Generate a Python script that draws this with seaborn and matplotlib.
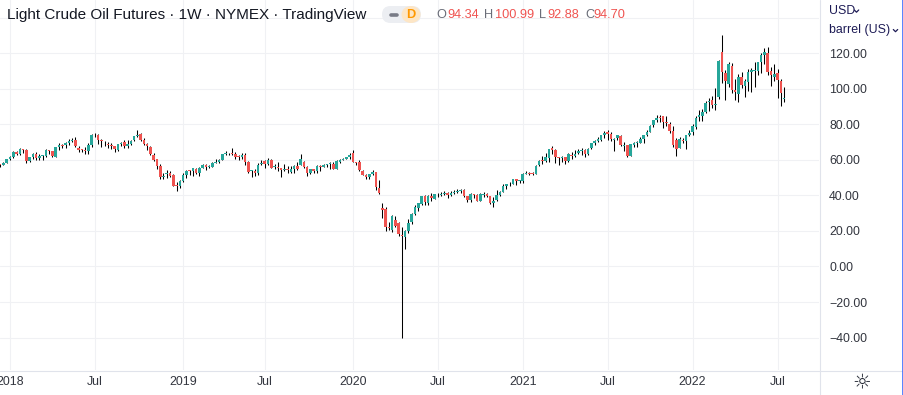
import numpy as np
import pandas as pd
import matplotlib
matplotlib.use("Agg")
import matplotlib.pyplot as plt
import seaborn as sns
from matplotlib.lines import Line2D
from matplotlib.patches import FancyBboxPatch, Ellipse
from matplotlib.transforms import IdentityTransform

# ---------------- data (weekly OHLC, USD/barrel) ----------------
first_week = "2017-12-11"
open_ = [
    57.36, 57.30, 58.45,
    60.37, 61.50, 64.27, 63.45, 66.16, 65.35, 59.29, 61.52, 63.57, 61.34, 62.03, 62.34, 65.73, 64.95, 61.87, 67.36,
    68.28, 68.30, 69.80, 70.65, 71.10, 66.84, 65.75, 65.70, 64.81, 68.71, 74.13, 73.87, 71.08, 68.20, 68.69, 68.50,
    67.66, 65.86, 68.74, 69.88, 67.66, 68.92, 71.00, 73.30, 74.40, 71.25, 69.20, 67.40, 63.00, 60.30, 56.60, 50.36,
    52.00, 52.64, 51.30, 45.48, 45.25,
    48.20, 51.30, 53.73, 53.56, 55.07, 52.56, 55.74, 57.15, 55.93, 56.04, 58.50, 58.96, 60.22, 63.11, 63.66, 64.05,
    63.33, 61.80, 61.56, 63.05, 58.98, 53.59, 53.99, 52.48, 57.48, 59.62, 57.47, 60.10, 55.83, 56.15, 55.64, 54.45,
    54.78, 53.50, 55.17, 56.70, 57.40, 59.00, 55.81, 52.83, 54.65, 53.71, 56.60, 56.30, 57.10, 57.59, 57.79, 55.17,
    59.09, 60.10, 60.48, 61.73,
    63.71, 59.00, 58.67, 53.58, 51.56, 50.18, 52.00, 52.97, 44.36, 32.87, 32.60, 22.00, 20.39, 26.10, 24.50, 17.73,
    16.80, 19.90, 24.80, 29.50, 32.90, 35.40, 39.60, 35.50, 39.80, 38.10, 40.70, 40.30, 40.60, 41.20, 40.20, 41.60,
    42.10, 42.40, 42.90, 39.60, 37.30, 40.90, 40.30, 37.00, 40.40, 40.90, 39.60, 35.90, 37.30, 40.00, 42.20, 45.40,
    46.20, 46.70, 49.10, 48.00,
    48.40, 52.20, 52.40, 52.40, 52.10, 57.00, 59.30, 59.50, 61.30, 66.50, 65.60, 61.50, 61.00, 61.40, 59.60, 63.00,
    62.00, 64.00, 65.00, 65.50, 63.60, 66.60, 69.40, 70.90, 71.40, 74.00, 75.60, 74.40, 71.40, 72.20, 73.60, 67.60,
    68.30, 62.40, 68.60, 69.40, 69.60, 71.70, 74.00, 75.90, 79.90, 82.50, 84.00, 84.50, 81.60, 80.50, 76.20, 71.20,
    67.00, 71.40, 70.50, 73.80,
    75.70, 78.40, 84.00, 84.50, 87.20, 92.50, 93.60, 90.80, 95.70, 121.00, 109.00, 103.00, 112.70, 99.50, 97.00,
    106.50, 101.50, 104.00, 109.50, 110.00, 110.20, 115.00, 119.00, 120.30, 109.90, 107.00, 108.90, 104.60, 94.34,
]
high = [
    58.00, 58.60, 60.51,
    62.21, 64.77, 64.89, 66.66, 66.30, 65.90, 61.85, 63.73, 64.24, 63.44, 62.88, 66.15, 65.75, 65.00, 67.45, 69.56,
    69.06, 70.00, 71.89, 72.30, 72.90, 67.75, 66.26, 67.40, 69.30, 74.46, 75.27, 74.70, 71.73, 70.84, 70.34, 69.80,
    67.90, 68.97, 70.40, 71.40, 71.25, 71.36, 73.53, 76.90, 75.18, 72.10, 69.70, 68.04, 63.82, 60.71, 57.60, 52.78,
    54.55, 53.70, 52.25, 47.50, 48.66,
    52.75, 54.10, 54.24, 55.75, 55.62, 55.90, 57.81, 57.88, 57.34, 58.95, 60.39, 60.74, 63.21, 64.79, 64.18, 66.60,
    64.43, 62.95, 63.68, 63.96, 59.45, 54.46, 54.84, 58.31, 60.10, 59.93, 60.94, 60.44, 57.47, 58.82, 55.66, 57.47,
    56.36, 56.83, 57.25, 58.76, 63.38, 59.40, 56.35, 54.90, 54.94, 56.92, 57.12, 57.88, 57.92, 58.65, 58.83, 59.85,
    60.29, 61.33, 61.88, 64.09,
    65.65, 59.11, 59.73, 54.55, 52.14, 52.35, 54.49, 53.09, 48.66, 35.80, 33.60, 25.24, 29.13, 28.36, 24.85, 22.10,
    20.48, 26.70, 29.90, 34.66, 35.67, 39.76, 40.44, 40.12, 41.63, 40.92, 41.38, 41.72, 42.51, 41.70, 42.53, 43.00,
    43.43, 43.78, 43.50, 39.80, 41.48, 41.00, 40.80, 41.41, 41.72, 41.57, 39.90, 39.24, 43.06, 42.29, 46.26, 46.68,
    47.74, 49.28, 49.40, 48.96,
    52.75, 53.93, 53.50, 53.45, 57.00, 59.76, 62.26, 63.81, 66.40, 67.98, 66.40, 61.90, 62.27, 61.50, 63.70, 64.47,
    65.47, 66.17, 66.48, 66.20, 66.85, 69.76, 71.00, 72.99, 74.25, 76.22, 76.98, 75.52, 72.50, 74.08, 73.90, 69.86,
    68.70, 69.00, 70.20, 70.47, 73.06, 74.30, 76.67, 79.78, 82.45, 85.41, 85.41, 84.97, 84.97, 81.56, 79.13, 72.20,
    72.70, 72.60, 74.00, 77.12,
    80.24, 84.78, 87.91, 88.84, 93.17, 94.94, 95.82, 100.54, 116.57, 130.50, 110.88, 115.40, 114.60, 105.40, 108.28,
    109.30, 105.50, 111.37, 111.54, 115.00, 115.20, 119.98, 123.18, 123.68, 112.50, 114.05, 111.45, 105.37, 100.99,
]
low = [
    56.14, 56.90, 58.28,
    60.10, 61.09, 62.80, 62.87, 63.67, 58.07, 58.62, 60.73, 60.05, 60.15, 60.10, 61.39, 63.52, 61.84, 61.77, 65.88,
    66.60, 66.66, 68.21, 70.10, 67.36, 64.22, 64.23, 63.59, 63.41, 67.21, 72.80, 69.20, 67.03, 67.96, 67.01, 66.40,
    64.43, 65.11, 68.05, 66.91, 66.86, 68.54, 70.88, 73.10, 70.81, 68.47, 65.74, 62.80, 59.65, 54.75, 49.41, 49.56,
    50.08, 50.59, 45.15, 42.36, 44.35,
    47.85, 49.85, 51.33, 51.24, 52.06, 51.23, 55.41, 54.52, 55.38, 55.96, 58.12, 58.16, 60.21, 62.89, 63.00, 62.71,
    60.51, 60.04, 60.66, 57.34, 52.87, 50.60, 50.72, 51.36, 57.20, 55.75, 57.11, 55.28, 55.13, 53.59, 50.52, 53.90,
    52.82, 52.86, 52.69, 54.25, 56.90, 55.29, 50.99, 51.88, 52.38, 52.69, 53.71, 55.81, 56.07, 55.01, 54.96, 54.90,
    58.21, 59.98, 60.46, 60.60,
    58.72, 57.36, 53.90, 51.27, 49.31, 49.40, 51.70, 43.32, 41.05, 27.34, 20.06, 20.52, 19.27, 22.00, 17.31, -40.32,
    10.07, 19.00, 23.70, 28.90, 31.50, 34.40, 34.50, 34.70, 37.08, 37.89, 39.36, 39.44, 40.40, 38.72, 39.60, 40.80,
    41.50, 41.50, 39.30, 36.13, 36.40, 38.66, 36.63, 36.90, 39.33, 39.20, 34.92, 33.64, 37.00, 39.58, 42.00, 43.92,
    45.10, 46.20, 46.16, 47.30,
    47.18, 51.83, 51.56, 51.40, 51.90, 56.70, 57.88, 59.03, 59.10, 63.30, 58.14, 57.32, 58.66, 57.63, 59.00, 60.72,
    61.60, 63.50, 63.00, 61.56, 62.60, 66.40, 68.40, 70.10, 70.96, 72.30, 71.10, 70.74, 65.01, 71.00, 67.59, 65.15,
    61.74, 62.20, 67.40, 67.58, 69.30, 69.50, 73.60, 75.60, 78.40, 81.50, 81.32, 78.25, 78.95, 75.02, 67.40, 62.43,
    66.90, 69.30, 66.10, 73.50,
    74.27, 77.70, 82.13, 81.94, 86.55, 87.76, 89.53, 88.00, 94.60, 103.46, 93.53, 101.00, 97.90, 93.93, 92.93,
    100.70, 95.28, 99.00, 98.20, 100.90, 107.60, 109.00, 114.25, 107.60, 101.53, 104.60, 95.10, 90.56, 92.88,
]
close = [
    57.30, 58.47, 60.42,
    61.44, 64.30, 63.37, 66.14, 65.45, 59.20, 61.68, 63.55, 61.25, 62.04, 62.34, 65.88, 64.94, 62.06, 67.39, 68.38,
    68.10, 69.72, 70.70, 71.28, 67.88, 65.81, 65.74, 65.06, 68.58, 74.15, 73.80, 71.01, 70.46, 68.69, 68.49, 67.63,
    65.91, 68.72, 69.80, 67.75, 68.99, 70.78, 73.25, 74.34, 71.34, 69.12, 67.59, 63.14, 60.19, 56.46, 50.42, 50.93,
    52.61, 51.20, 45.59, 45.33, 47.96,
    51.59, 53.80, 53.69, 55.26, 52.72, 55.59, 57.26, 55.80, 56.07, 58.52, 59.04, 60.14, 63.08, 63.89, 64.00, 63.30,
    61.94, 61.66, 62.76, 58.63, 53.50, 53.99, 52.51, 57.43, 58.47, 57.51, 60.21, 55.63, 56.20, 55.66, 54.50, 54.87,
    54.17, 55.10, 56.52, 54.85, 60.60, 55.91, 52.81, 54.70, 53.78, 56.66, 56.20, 57.24, 57.72, 57.77, 55.17, 59.20,
    60.07, 60.44, 61.72, 63.05,
    59.04, 58.54, 54.19, 51.56, 50.32, 52.05, 53.38, 44.76, 41.28, 31.73, 22.43, 21.51, 28.34, 22.76, 18.27, 16.94,
    19.78, 24.74, 29.43, 33.25, 35.49, 39.55, 36.26, 39.75, 38.49, 40.65, 40.55, 40.59, 41.29, 40.27, 41.22, 42.01,
    42.34, 42.97, 39.77, 37.33, 41.11, 40.25, 37.05, 40.60, 40.88, 39.85, 35.79, 37.14, 40.13, 42.15, 45.53, 46.26,
    46.57, 49.10, 48.23, 48.52,
    52.24, 52.36, 52.27, 52.20, 56.85, 59.47, 59.24, 61.50, 66.09, 65.61, 61.42, 60.97, 61.45, 59.32, 63.13, 62.14,
    63.58, 64.90, 65.37, 63.58, 66.32, 69.62, 70.91, 71.64, 74.05, 75.16, 74.56, 71.81, 72.07, 73.95, 68.28, 68.44,
    62.32, 68.74, 69.29, 69.72, 71.97, 73.98, 75.88, 79.35, 82.28, 83.76, 83.57, 81.27, 80.79, 76.10, 68.15, 66.26,
    71.67, 70.86, 73.79, 75.21,
    78.90, 83.82, 85.14, 86.82, 92.31, 93.10, 91.07, 91.59, 115.68, 109.33, 104.70, 113.90, 99.27, 98.26, 106.95,
    102.07, 104.69, 109.77, 110.49, 110.28, 115.07, 118.87, 120.67, 109.56, 107.62, 108.43, 104.79, 97.59, 94.70,
]

x_tick_dates = ["2018-01-01", "2018-07-02", "2019-01-07", "2019-07-01", "2020-01-06",
                "2020-07-06", "2021-01-04", "2021-07-05", "2022-01-03", "2022-07-04"]
x_tick_labels = ["2018", "Jul", "2019", "Jul", "2020", "Jul", "2021", "Jul", "2022", "Jul"]
y_ticks = [-40, -20, 0, 20, 40, 60, 80, 100, 120, 140]
y_tick_labels = ["\u221240.00", "\u221220.00", "0.00", "20.00", "40.00", "60.00",
                 "80.00", "100.00", "120.00", ""]
title = "Light Crude Oil Futures \u00b7 1W \u00b7 NYMEX \u00b7 TradingView"
ohlc_letters = ["O", "H", "L", "C"]
ohlc_values = ["94.34", "100.99", "92.88", "94.70"]

# ---------------- style ----------------
W, H = 904, 395
sns.set_theme(style="white")
plt.rcParams["font.family"] = ["Liberation Sans", "DejaVu Sans"]

UP, DOWN = "#26a69a", "#ef5350"
GRID = "#f0f1f4"
SEP = "#e0e3eb"
TXT = "#131722"

df = pd.DataFrame({"open": open_, "high": high, "low": low, "close": close})
df["date"] = pd.date_range(first_week, periods=len(df), freq="7D")
origin = pd.Timestamp("2018-01-01")
df["x"] = (df["date"] - origin).dt.days / 7.0
tick_x = [(pd.Timestamp(d) - origin).days / 7.0 for d in x_tick_dates]

fig = plt.figure(figsize=(W / 100, H / 100), dpi=100)
ax = fig.add_axes([0, (H - 370) / H, 819 / W, 370 / H])
ax.set_facecolor("white")

# wicks
ax.vlines(df["x"], df["low"], df["high"], color="black", linewidth=0.75, zorder=2)
# bodies
body_bottom = np.minimum(df["open"], df["close"])
body_h = np.maximum(np.abs(df["close"] - df["open"]), 0.5)
colors = np.where(df["close"] < df["open"], DOWN, UP)
ax.bar(df["x"], body_h, bottom=body_bottom, width=0.78, color=colors,
       linewidth=0, zorder=3)

ax.set_xlim(-3.06, 247.7)
ax.set_ylim(-58.3, 150.1)
ax.set_xticks(tick_x)
ax.set_xticklabels(x_tick_labels)
ax.set_yticks(y_ticks)
ax.set_yticklabels(y_tick_labels)
ax.yaxis.tick_right()
ax.tick_params(axis="y", length=0, pad=7.3, labelsize=8.9, labelcolor="#33363f")
ax.tick_params(axis="x", length=0, pad=4.5, labelsize=8.9, labelcolor="#33363f")
for lab in ax.get_yticklabels():
    lab.set_horizontalalignment("left")
ax.grid(True, color=GRID, linewidth=0.8, zorder=0)
ax.set_axisbelow(True)
for s in ax.spines.values():
    s.set_visible(False)

# ---------------- frame lines (pixel coordinates) ----------------
ident = IdentityTransform()
def Y(y):
    return H - y

fig.add_artist(Line2D([819.5, 819.5], [Y(0), Y(395)], color=SEP, lw=0.8, transform=ident))
fig.add_artist(Line2D([0, 904], [Y(370.5), Y(370.5)], color=SEP, lw=0.8, transform=ident))
fig.add_artist(Line2D([903.3, 903.3], [Y(0), Y(395)], color="#2962ff", lw=1.1, transform=ident))

# ---------------- header ----------------
fig.text(7 / W, 1 - 14.5 / H, title, fontsize=11.0, color=TXT, va="center", ha="left")

pill = FancyBboxPatch((382, Y(23)), 39, 17, boxstyle="round,pad=0,rounding_size=8.5",
                      facecolor="#eceef2", edgecolor="none", transform=ident)
fig.add_artist(pill)
fig.add_artist(Ellipse((411, Y(14.5)), 19, 17, facecolor="#fde6c6", edgecolor="none",
                       transform=ident))
fig.add_artist(Line2D([390.5, 396.5], [Y(14.5), Y(14.5)], color="#787b86", lw=2.6,
                      solid_capstyle="round", transform=ident))
fig.text(411 / W, 1 - 15 / H, "D", fontsize=9.2, color="#ff9800", fontweight="bold",
         va="center", ha="center")

letter_x = [436, 484.5, 539, 585.5]
value_x = [447, 495, 547, 593.5]
for lx, vx, l, v in zip(letter_x, value_x, ohlc_letters, ohlc_values):
    fig.text(lx / W, 1 - 15 / H, l, fontsize=9.2, color="#6a6d78", va="center", ha="left")
    fig.text(vx / W, 1 - 15 / H, v, fontsize=9.2, color=DOWN, va="center", ha="left")

# ---------------- price-scale header ----------------
fig.text(829 / W, 1 - 11 / H, "USD", fontsize=8.9, color="#1d1b55", va="center", ha="left")
fig.text(829 / W, 1 - 30.5 / H, "barrel (US)", fontsize=8.9, color="#1d1b55",
         va="center", ha="left")
for cx, cy in [(856.5, 11), (895.5, 30.5)]:
    fig.add_artist(Line2D([cx - 2.2, cx, cx + 2.2], [Y(cy - 1), Y(cy + 1.2), Y(cy - 1)],
                          color="#1d1b55", lw=0.9, transform=ident))

fig.text(862 / W, 1 - 382.5 / H, "\u263c", fontsize=15, color="#2a2e39",
         va="center", ha="center", family="DejaVu Sans")

fig.savefig("out.png", dpi=100)
